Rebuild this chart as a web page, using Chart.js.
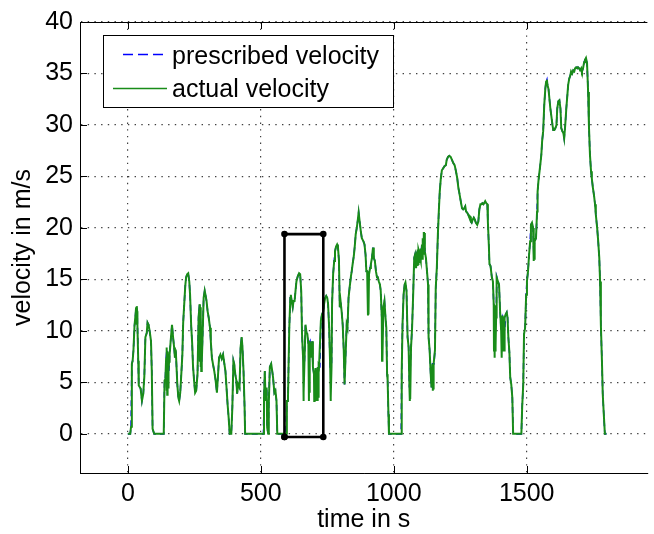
<!DOCTYPE html>
<html>
<head>
<meta charset="utf-8">
<script src="https://cdn.jsdelivr.net/npm/chart.js@4.4.1/dist/chart.umd.min.js"></script>
<style>
  html, body { margin: 0; padding: 0; background: #fff; overflow: hidden; }
  #wrap { width: 654px; height: 534px; }
</style>
</head>
<body>
<div id="wrap"><canvas id="velocityChart" width="654" height="534"></canvas></div>
<script>
// axis ticks
const xTicks = [0, 500, 1000, 1500];
const yTicks = [0, 5, 10, 15, 20, 25, 30, 35, 40];

// prescribed drive cycle, [time in s, velocity in m/s]
const prescribed = [
  [0,0],[9,0],[12,0.7],[15,6.8],[18,7.1],[21,8.1],[25,10.5],[29,11.6],[31,12.3],[35,11.9],[36,10.5],
  [39,7.1],[41,4.7],[48,4.4],[53,3.2],[58,3.9],[62,5.6],[66,9.4],[71,9.8],[74,10.8],[78,10.6],
  [83,9.8],[87,9.0],[90,6.1],[93,0.5],[99,0],[135,0],[138,5.2],[141,5.3],[144,7.4],[147,8.2],
  [150,7.0],[154,6.1],[157,7.7],[161,9.0],[166,10.6],[170,9.4],[174,8.4],[177,7.4],[180,8.2],
  [182,7.1],[186,4.8],[190,3.5],[193,3.2],[197,4.0],[201,5.8],[205,7.7],[208,10.8],[212,12.6],
  [216,14.4],[219,15.2],[223,15.5],[227,15.6],[231,14.8],[234,13.5],[238,10.6],[242,8.7],[245,6.6],
  [249,5.2],[253,4.0],[257,4.2],[262,5.8],[266,11.3],[270,12.6],[274,10.3],[278,7.0],[281,9.4],
  [285,13.2],[289,13.9],[292,13.5],[296,12.9],[300,11.9],[304,11.3],[309,10.3],[312,9.0],[316,7.4],
  [320,6.8],[325,6.1],[330,5.2],[335,4.0],[340,6.1],[343,7.4],[348,7.7],[353,7.3],[358,7.7],
  [363,6.8],[367,6.1],[371,4.5],[375,2.9],[379,1.6],[383,0],[389,0],[393,2.6],[397,7.1],[400,6.8],
  [404,5.8],[408,5.2],[411,3.9],[415,4.8],[420,4.5],[424,8.4],[428,9.4],[431,8.4],[435,6.1],
  [439,2.6],[441,0],[510,0],[512,3.5],[515,6.1],[518,3.2],[522,4.5],[524,0.6],[528,0],[530,2.9],
  [534,6.5],[539,6.8],[543,6.1],[546,5.5],[551,4.0],[555,4.2],[559,3.2],[562,0],[595,0],
  [598,3.2],[602,3.2],[607,10.2],[611,13.2],[613,13.5],[616,12.9],[620,12.3],[623,12.9],[627,12.9],
  [631,14.0],[634,14.8],[639,15.3],[644,15.6],[648,15.5],[652,13.9],[655,9.7],[659,7.4],[664,6.8],
  [668,10.6],[672,9.8],[675,9.7],[679,8.7],[685,9.0],[689,7.4],[693,9.0],[696,6.5],[700,5.8],
  [704,4.5],[708,5.5],[711,4.5],[715,5.8],[719,6.5],[722,6.5],[726,11.0],[730,11.6],[735,11.9],
  [738,12.6],[742,13.2],[746,13.4],[750,13.2],[753,12.6],[757,10.3],[761,6.5],[766,6.5],[768,12.6],
  [772,15.5],[776,16.8],[779,17.7],[783,18.2],[787,18.4],[790,18.2],[794,16.8],[797,12.3],[800,12.9],
  [804,11.9],[808,10.6],[812,8.1],[815,4.8],[819,7.7],[823,10.6],[826,10.3],[830,13.2],[834,14.2],
  [839,15.3],[842,15.8],[846,16.6],[850,17.3],[854,18.4],[857,19.4],[861,20.0],[865,20.8],[868,21.5],
  [872,20.6],[876,19.7],[880,19.0],[886,18.7],[890,18.4],[894,17.4],[897,15.8],[900,15.8],[907,15.5],
  [911,16.1],[914,16.5],[918,17.1],[922,18.1],[925,17.1],[929,16.8],[933,15.8],[937,15.2],[940,15.2],
  [944,14.8],[948,14.5],[951,13.9],[955,11.3],[961,12.3],[965,12.9],[969,11.3],[972,10.3],[975,5.8],
  [977,5.2],[980,1.9],[982,0],[1028,0],
  [1030,6.1],[1033,10.6],[1037,13.5],[1041,14.5],[1044,14.7],[1048,13.9],[1052,9.4],[1056,8.4],
  [1059,4.5],[1065,8.4],[1069,10.3],[1073,13.5],[1077,17.1],[1080,17.4],[1084,16.1],[1088,17.7],
  [1091,17.1],[1095,17.7],[1099,17.1],[1103,17.7],[1106,18.4],[1110,18.1],[1114,19.5],[1117,17.7],
  [1121,17.1],[1125,15.8],[1129,14.5],[1131,9.4],[1135,8.1],[1139,5.8],[1142,4.5],[1146,6.8],
  [1151,6.8],[1155,8.1],[1158,14.2],[1162,16.1],[1166,19.4],[1170,21.9],[1173,23.5],[1177,24.8],
  [1181,25.6],[1186,25.8],[1191,26.0],[1196,26.1],[1199,26.6],[1204,26.9],[1209,27.0],[1214,26.9],
  [1219,26.6],[1224,26.3],[1229,26.1],[1234,25.5],[1239,24.8],[1243,23.9],[1246,23.5],[1250,22.9],
  [1254,22.3],[1257,21.9],[1261,21.8],[1265,21.9],[1269,22.1],[1272,21.6],[1276,21.5],[1280,21.3],
  [1283,21.1],[1287,21.1],[1290,20.6],[1293,20.5],[1297,20.8],[1301,21.0],[1305,20.8],[1309,20.5],
  [1314,20.3],[1318,20.6],[1322,21.8],[1326,22.3],[1330,22.3],[1333,22.4],[1337,22.3],[1340,22.4],
  [1344,22.6],[1348,22.4],[1352,22.3],[1354,20.6],[1358,18.1],[1360,16.5],[1364,16.3],[1369,15.2],
  [1373,14.8],[1376,12.6],[1381,11.3],[1385,11.3],[1388,15.2],[1392,14.8],[1396,14.5],[1400,11.9],
  [1404,10.0],[1410,11.3],[1413,11.0],[1417,10.0],[1421,11.6],[1425,11.8],[1428,11.3],[1431,9.4],
  [1435,7.9],[1438,5.5],[1442,4.8],[1446,3.5],[1449,0],[1480,0],
  [1483,2.6],[1487,4.8],[1490,9.7],[1494,10.3],[1498,13.5],[1501,14.8],[1505,15.8],[1509,17.4],
  [1513,18.7],[1516,20.3],[1520,20.5],[1524,20.0],[1526,18.1],[1531,18.7],[1535,19.0],[1539,21.6],
  [1541,23.5],[1544,24.5],[1547,25.2],[1551,26.1],[1555,27.1],[1558,28.4],[1562,29.4],[1566,31.9],
  [1570,33.5],[1573,34.2],[1576,34.4],[1578,33.9],[1582,33.5],[1586,32.4],[1589,31.6],[1593,30.8],
  [1597,30.0],[1600,29.5],[1604,29.5],[1608,29.7],[1612,30.0],[1615,31.6],[1619,32.3],[1623,32.4],
  [1627,31.6],[1630,29.7],[1634,29.4],[1638,29.2],[1641,28.7],[1645,30.0],[1649,31.6],[1653,32.9],
  [1656,33.9],[1660,34.5],[1664,34.8],[1667,35.2],[1671,35.0],[1675,35.3],[1679,35.2],[1682,35.5],
  [1686,35.6],[1690,35.5],[1693,35.6],[1697,35.5],[1701,35.3],[1705,35.5],[1708,35.2],[1712,35.5],
  [1716,36.1],[1719,36.3],[1723,36.5],[1727,36.0],[1731,33.2],[1734,30.0],[1738,27.1],[1742,25.5],
  [1745,24.8],[1749,23.9],[1753,23.2],[1757,22.3],[1760,21.3],[1765,20.0],[1769,18.7],[1773,17.1],
  [1776,14.8],[1779,10.6],[1783,7.1],[1786,3.9],[1790,1.9],[1794,0],[1800,0]
];

// measured velocity where it swings around the prescribed trace, [time in s, velocity in m/s]
const oscillation = [
  [33,10.6],[34,12.4],
  [145,4.2],[146,8.4],[148,3.8],[149,8.0],[151,4.5],[152,7.6],[153,5.0],[155,7.0],
  [271,7.0],[272,12.3],[273,6.5],[275,11.5],[276,6.1],
  [660,3.2],[661,7.0],[662,4.0],[681,3.2],[682,8.5],[683,4.0],
  [701,3.2],[702,6.0],[703,3.4],[705,6.2],[706,3.2],[707,6.4],[709,3.2],[710,6.0],[712,3.3],
  [713,6.5],[714,3.6],[716,6.4],[717,3.5],[718,6.6],
  [762,3.2],[763,6.0],[764,3.5],
  [903,11.5],[904,15.6],[905,11.6],[956,7.1],[957,12.0],[958,7.3],
  [1060,3.2],[1061,5.2],[1062,3.4],
  [1089,16.3],[1090,17.9],[1092,16.5],[1093,17.9],[1097,16.6],[1098,17.9],[1101,16.8],[1102,18.0],
  [1107,17.0],[1108,19.0],[1112,17.5],[1113,19.5],
  [1147,4.2],[1148,6.6],[1149,4.3],
  [1377,8.0],[1378,12.3],[1379,7.4],[1380,11.8],[1382,8.0],[1383,12.5],[1384,8.5],[1386,13.5],
  [1405,7.4],[1406,10.5],[1407,7.6],[1408,11.5],[1409,8.0],[1411,10.8],[1414,8.5],[1415,11.0],
  [1416,8.0],[1418,11.3],
  [1527,16.8],[1528,18.5],[1529,16.9]
];

// highlighted section
const boxTime = [589, 589, 735, 735, 589];
const boxVel = [-0.3, 19.4, 19.4, -0.3, -0.3];

const toPoints = rows => rows.map(([x, y]) => ({ x, y }));
const prescribedPts = toPoints(prescribed);
const actualPts = toPoints(prescribed.concat(oscillation).sort((a, b) => a[0] - b[0]));
const boxPts = boxTime.map((x, i) => ({ x, y: boxVel[i] }));

// MATLAB-like frame: top edge and inward tick marks
const frameTicks = {
  id: 'frameTicks',
  afterDatasetsDraw(chart) {
    const { ctx, chartArea: a, scales: { x, y } } = chart;
    ctx.save();
    ctx.strokeStyle = '#000';
    ctx.lineWidth = 1;
    ctx.beginPath();
    ctx.moveTo(a.left, a.top + 0.5);
    ctx.lineTo(a.right, a.top + 0.5);
    xTicks.forEach(v => {
      const px = Math.round(x.getPixelForValue(v)) + 0.5;
      ctx.moveTo(px, a.bottom); ctx.lineTo(px, a.bottom - 7);
      ctx.moveTo(px, a.top); ctx.lineTo(px, a.top + 7);
    });
    yTicks.forEach(v => {
      const py = Math.round(y.getPixelForValue(v)) + 0.5;
      ctx.moveTo(a.left, py); ctx.lineTo(a.left + 7, py);
    });
    ctx.stroke();
    ctx.restore();
  }
};

// legend box in the upper left corner of the axes
const legendBox = {
  id: 'legendBox',
  afterDraw(chart) {
    const ctx = chart.ctx;
    const ds = chart.data.datasets;
    ctx.save();
    ctx.fillStyle = '#fff';
    ctx.fillRect(103, 35, 290, 73);
    ctx.strokeStyle = '#000';
    ctx.lineWidth = 1;
    ctx.strokeRect(103.5, 35.5, 290, 72);

    ctx.strokeStyle = ds[1].borderColor;
    ctx.lineWidth = 1.3;
    ctx.setLineDash([10, 5]);
    ctx.beginPath(); ctx.moveTo(123, 54.5); ctx.lineTo(167, 54.5); ctx.stroke();
    ctx.setLineDash([]);
    ctx.strokeStyle = ds[0].borderColor;
    ctx.beginPath(); ctx.moveTo(113, 88.5); ctx.lineTo(167, 88.5); ctx.stroke();

    ctx.fillStyle = '#000';
    ctx.font = '25px "Liberation Sans", Arial, sans-serif';
    ctx.textBaseline = 'alphabetic';
    ctx.fillText(ds[1].label, 172, 64);
    ctx.fillText(ds[0].label, 172, 97);
    ctx.restore();
  }
};

Chart.defaults.font.family = '"Liberation Sans", Arial, sans-serif';
Chart.defaults.font.size = 25;
Chart.defaults.color = '#000';

const gridStyle = { color: 'rgba(0,0,0,0.75)', lineWidth: 1.2, drawTicks: false };
const borderStyle = { display: true, color: '#000', width: 1, dash: [1.4, 5.3] };

new Chart(document.getElementById('velocityChart').getContext('2d'), {
  type: 'line',
  data: {
    datasets: [
      {
        label: 'actual velocity',
        data: actualPts,
        borderColor: 'rgb(25,140,25)',
        borderWidth: 2,
        pointRadius: 0,
        order: 1
      },
      {
        label: 'prescribed velocity',
        data: prescribedPts,
        borderColor: 'rgb(0,0,255)',
        borderWidth: 1.6,
        borderDash: [6, 4],
        pointRadius: 0,
        order: 2
      },
      {
        label: 'section',
        data: boxPts,
        borderColor: '#000',
        borderWidth: 2.6,
        pointRadius: 2,
        pointBackgroundColor: '#000',
        pointBorderColor: '#000',
        order: 0
      }
    ]
  },
  options: {
    responsive: false,
    animation: false,
    devicePixelRatio: 1,
    layout: { padding: { top: 20, right: 0, left: 0, bottom: 0 } },
    plugins: { legend: { display: false }, tooltip: { enabled: false } },
    elements: { line: { tension: 0 } },
    scales: {
      x: {
        type: 'linear',
        min: -180,
        max: 1954,
        afterBuildTicks: s => { s.ticks = xTicks.map(value => ({ value })); },
        afterFit: s => { s.height = 61; },
        grid: gridStyle,
        border: borderStyle,
        ticks: { padding: 6, maxRotation: 0, callback: v => String(v) },
        title: { display: true, text: 'time in s', padding: { top: 0, bottom: 0 }, font: { size: 25, lineHeight: 1.15 } }
      },
      y: {
        type: 'linear',
        min: -3.8,
        max: 40,
        afterBuildTicks: s => { s.ticks = yTicks.map(value => ({ value })); },
        afterFit: s => { s.width = 80; },
        grid: gridStyle,
        border: borderStyle,
        ticks: { padding: 7, callback: v => String(v) },
        title: { display: true, text: 'velocity in m/s', padding: { top: 8, bottom: 0 }, font: { size: 25, lineHeight: 1.2 } }
      }
    }
  },
  plugins: [frameTicks, legendBox]
});
</script>
</body>
</html>
